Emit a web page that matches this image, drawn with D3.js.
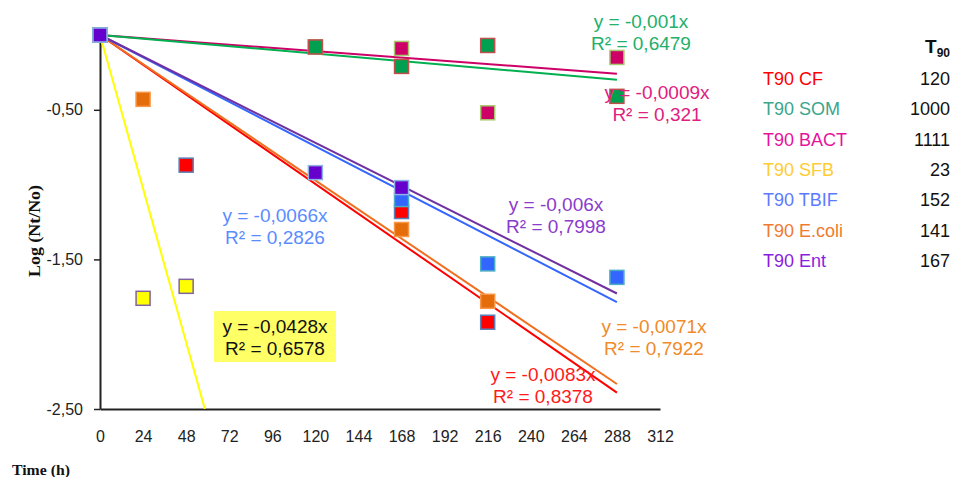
<!DOCTYPE html>
<html>
<head>
<meta charset="utf-8">
<script src="https://cdn.jsdelivr.net/npm/d3@7/dist/d3.min.js"></script>
<style>
  body { margin: 0; background: #fff; }
  svg { display: block; }
  .tick text { font-family: "Liberation Sans", Arial, sans-serif; font-size: 16px; fill: #222; }
  .eq { font-family: "Liberation Sans", Arial, sans-serif; font-size: 19px; }
  .leg { font-family: "Liberation Sans", Arial, sans-serif; font-size: 18px; }
  .titre { font-family: "Liberation Serif", "Times New Roman", serif; font-weight: bold; fill: #111; }
</style>
</head>
<body>
<svg width="953" height="477"></svg>
<script>
// heures de prélèvement
const hours = [0, 24, 48, 120, 168, 216, 288];
const xTicks = [0, 24, 48, 72, 96, 120, 144, 168, 192, 216, 240, 264, 288, 312];
const yTicks = [-0.5, -1.5, -2.5];

// Log(Nt/No) par série (null = pas de point)
const cf    = [0, null, -0.87, null, -1.18, -1.92, null];
const som   = [0, null, null, -0.08, -0.21, -0.07, -0.41];
const bact  = [0, null, null, -0.08, -0.09, -0.52, -0.15];
const sfb   = [0, -1.76, -1.68, null, null, null, null];
const tbif  = [0, null, null, null, -1.10, -1.53, -1.62];
const ecoli = [0, -0.43, null, null, -1.30, -1.78, null];
const ent   = [0, null, null, -0.92, -1.02, null, null];

// pentes des droites de tendance
const slopes = { cf: -0.0083, som: -0.00104, bact: -0.0009, sfb: -0.0428, tbif: -0.0062, ecoli: -0.0081, ent: -0.006 };

// équations affichées
const eqText = {
  cf: ["y = -0,0083x", "R² = 0,8378"],
  som: ["y = -0,001x", "R² = 0,6479"],
  bact: ["y = -0,0009x", "R² = 0,321"],
  sfb: ["y = -0,0428x", "R² = 0,6578"],
  tbif: ["y = -0,0066x", "R² = 0,2826"],
  ecoli: ["y = -0,0071x", "R² = 0,7922"],
  ent: ["y = -0,006x", "R² = 0,7998"]
};

// tableau T90
const t90Names = ["T90 CF", "T90 SOM", "T90 BACT", "T90 SFB", "T90 TBIF", "T90 E.coli", "T90 Ent"];
const t90Values = [120, 1000, 1111, 23, 152, 141, 167];

const series = [
  { key: "cf",    vals: cf,    fill: "#FF0000", stroke: "#5B7FB8", line: "#FF0000" },
  { key: "bact",  vals: bact,  fill: "#CC0066", stroke: "#A8C870", line: "#CC0066" },
  { key: "som",   vals: som,   fill: "#00A050", stroke: "#C0504D", line: "#00B050" },
  { key: "sfb",   vals: sfb,   fill: "#FFFF00", stroke: "#8064A2", line: "#FFFF00" },
  { key: "ecoli", vals: ecoli, fill: "#E46C0A", stroke: "#F79646", line: "#F07020" },
  { key: "tbif",  vals: tbif,  fill: "#3366FF", stroke: "#4BACC6", line: "#3366FF" },
  { key: "ent",   vals: ent,   fill: "#6600CC", stroke: "#8EB4E3", line: "#7030A0" }
];

const legColors = ["#FF0000", "#3BA68C", "#E6139B", "#FFCC33", "#5B7BFF", "#F07A30", "#8B1CE0"];

const svg = d3.select("svg");
svg.append("rect").attr("width", 953).attr("height", 477).attr("fill", "#fff");

const x = d3.scaleLinear().domain([0, 312]).range([100, 660]);
const y = d3.scaleLinear().domain([-2.5, 0]).range([409, 35]);
const fmt = d => d3.format(".2f")(d).replace(".", ",").replace("\u2212", "-");

// axe Y
const gy = svg.append("g")
  .attr("transform", `translate(${x(0)},0)`)
  .call(d3.axisLeft(y).tickValues(yTicks).tickFormat(fmt).tickSize(6).tickSizeOuter(0).tickPadding(11));
gy.select(".domain").attr("stroke", "#222").attr("stroke-width", 2);
gy.selectAll(".tick line").attr("stroke", "#222").attr("stroke-width", 1.5);

// axe X
const gx = svg.append("g")
  .attr("transform", `translate(0,${y(-2.5)})`)
  .call(d3.axisBottom(x).tickValues(xTicks).tickSize(0).tickSizeOuter(0).tickPadding(22));
gx.select(".domain").attr("stroke", "#222").attr("stroke-width", 2);

// droites de tendance
series.forEach(s => {
  const m = slopes[s.key];
  let xEnd = 288;
  if (m * xEnd < -2.5) xEnd = -2.5 / m;
  svg.append("line")
    .attr("x1", x(0)).attr("y1", y(0))
    .attr("x2", x(xEnd)).attr("y2", y(m * xEnd))
    .attr("stroke", s.line).attr("stroke-width", 2);
});

// points
series.forEach(s => {
  const pts = hours.map((h, i) => ({ h, v: s.vals[i] })).filter(d => d.v !== null);
  svg.selectAll(null).data(pts).enter().append("rect")
    .attr("x", d => x(d.h) - 7).attr("y", d => y(d.v) - 7)
    .attr("width", 14).attr("height", 14)
    .attr("fill", s.fill).attr("stroke", s.stroke).attr("stroke-width", 1.5);
});

// encadré jaune SFB
svg.append("rect").attr("x", 214).attr("y", 311).attr("width", 122).attr("height", 51).attr("fill", "#FFFF66");

// équations
const eqPos = [
  { key: "som",   cx: 641, cy: 21,  color: "#22B06A" },
  { key: "bact",  cx: 657, cy: 92,  color: "#E0207E" },
  { key: "ent",   cx: 556, cy: 204, color: "#8A3CCC" },
  { key: "tbif",  cx: 275, cy: 215, color: "#5B8CFF" },
  { key: "sfb",   cx: 275, cy: 326, color: "#111" },
  { key: "ecoli", cx: 654, cy: 326, color: "#F08A2A" },
  { key: "cf",    cx: 543, cy: 374, color: "#FF1A1A" }
];
eqPos.forEach(p => {
  eqText[p.key].forEach((t, i) => {
    svg.append("text").attr("class", "eq")
      .attr("x", p.cx).attr("y", p.cy + i * 22)
      .attr("text-anchor", "middle").attr("dominant-baseline", "central")
      .attr("fill", p.color).text(t);
  });
});

// titres des axes
svg.append("text").attr("class", "titre")
  .attr("transform", "translate(40,231) rotate(-90)")
  .attr("text-anchor", "middle").attr("font-size", 16)
  .attr("textLength", 92).attr("lengthAdjust", "spacingAndGlyphs")
  .text("Log (Nt/No)");
svg.append("text").attr("class", "titre")
  .attr("x", 12).attr("y", 475).attr("font-size", 15)
  .attr("textLength", 58).attr("lengthAdjust", "spacingAndGlyphs")
  .text("Time (h)");

// tableau T90
const t90 = svg.append("text").attr("class", "leg").attr("x", 950).attr("y", 53)
  .attr("text-anchor", "end").attr("font-weight", "bold").attr("fill", "#111");
t90.append("tspan").attr("font-size", 19).text("T");
t90.append("tspan").attr("font-size", 12).attr("dy", 4).text("90");

t90Names.forEach((n, i) => {
  const yy = 79 + i * 30.3;
  svg.append("text").attr("class", "leg").attr("x", 763).attr("y", yy)
    .attr("dominant-baseline", "central").attr("fill", legColors[i]).text(n);
  svg.append("text").attr("class", "leg").attr("x", 950).attr("y", yy)
    .attr("dominant-baseline", "central").attr("text-anchor", "end").attr("fill", "#111").text(t90Values[i]);
});
</script>
</body>
</html>
